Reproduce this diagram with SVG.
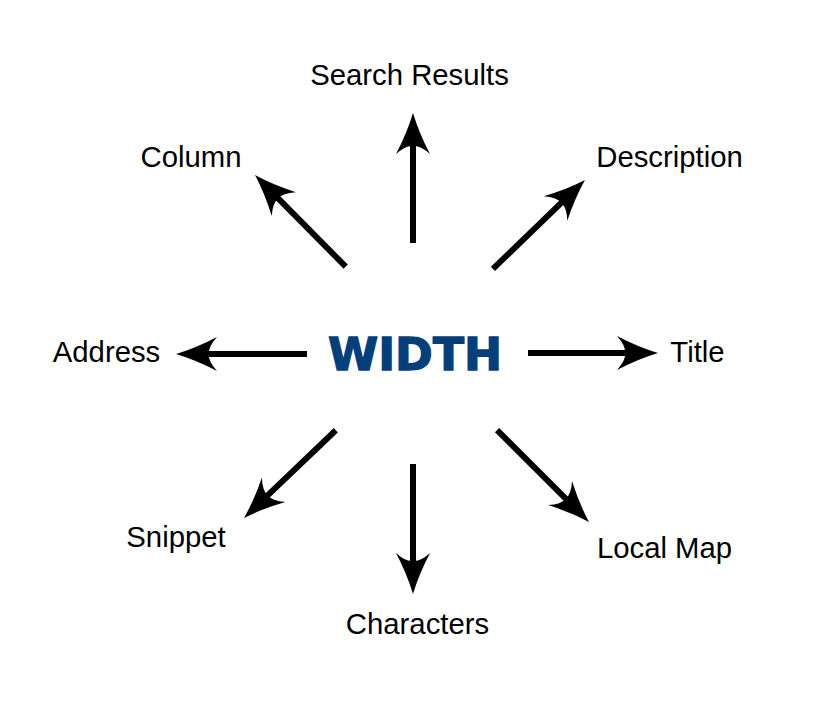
<svg xmlns="http://www.w3.org/2000/svg" xmlns:xlink="http://www.w3.org/1999/xlink" width="815" height="703" viewBox="0 0 815 703">
<style>
.lbl{font-family:"Liberation Sans",Arial,sans-serif;font-size:29.3px;fill:#000}
.ctr{font-family:"DejaVu Sans",sans-serif;font-weight:bold;font-size:45px;fill:#053f7a;stroke:#053f7a;stroke-width:1.4}
.ln{stroke:#000;stroke-width:6;fill:none}
</style>
<defs>
<path id="head" d="M0,0 Q-20,-6 -41,-17 Q-32,-7 -33,0 Q-32,7 -41,17 Q-20,6 0,0 Z" fill="#000"/>
</defs>
<rect width="815" height="703" fill="#fff"/>
<g id="connectors">
<g transform="translate(413,113) rotate(-90)"><line class="ln" x1="-130" y1="0" x2="-28" y2="0"/><use xlink:href="#head"/></g>
<g transform="translate(255,175) rotate(-134.7)"><line class="ln" x1="-129" y1="0" x2="-28" y2="0"/><use xlink:href="#head"/></g>
<g transform="translate(585,180) rotate(-44)"><line class="ln" x1="-128" y1="0" x2="-28" y2="0"/><use xlink:href="#head"/></g>
<g transform="translate(176,354) rotate(180)"><line class="ln" x1="-131" y1="0" x2="-28" y2="0"/><use xlink:href="#head"/></g>
<g transform="translate(658,353)"><line class="ln" x1="-130" y1="0" x2="-28" y2="0"/><use xlink:href="#head"/></g>
<g transform="translate(244,518) rotate(136.3)"><line class="ln" x1="-127" y1="0" x2="-28" y2="0"/><use xlink:href="#head"/></g>
<g transform="translate(413,594) rotate(90)"><line class="ln" x1="-130" y1="0" x2="-28" y2="0"/><use xlink:href="#head"/></g>
<g transform="translate(589,522) rotate(45)"><line class="ln" x1="-130" y1="0" x2="-28" y2="0"/><use xlink:href="#head"/></g>
</g>
<g id="center"><text class="ctr" x="328" y="370" textLength="174" lengthAdjust="spacingAndGlyphs">WIDTH</text></g>
<g id="search-results"><text class="lbl" x="409.5" y="85" text-anchor="middle">Search Results</text></g>
<g id="column"><text class="lbl" x="191" y="167" text-anchor="middle">Column</text></g>
<g id="description"><text class="lbl" x="669.5" y="167" text-anchor="middle">Description</text></g>
<g id="address"><text class="lbl" x="106.5" y="362" text-anchor="middle">Address</text></g>
<g id="title"><text class="lbl" x="697.5" y="362" text-anchor="middle">Title</text></g>
<g id="snippet"><text class="lbl" x="176" y="547" text-anchor="middle">Snippet</text></g>
<g id="local-map"><text class="lbl" x="664.5" y="558" text-anchor="middle">Local Map</text></g>
<g id="characters"><text class="lbl" x="417.5" y="634" text-anchor="middle">Characters</text></g>
</svg>
